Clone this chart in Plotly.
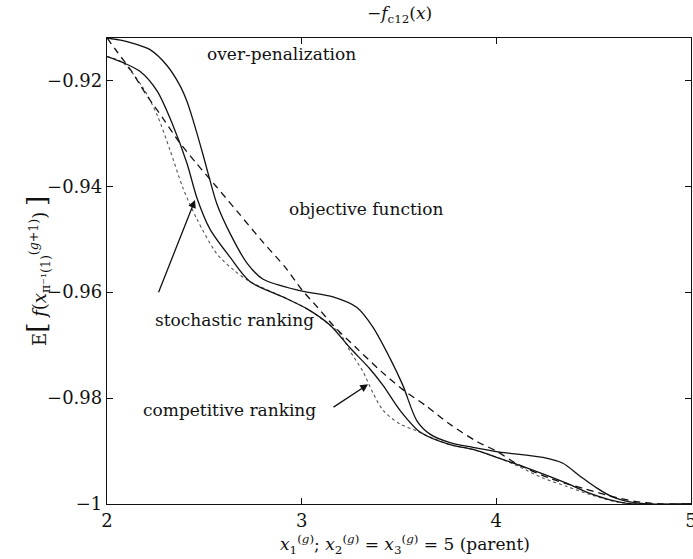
import plotly.graph_objects as go

# objective function (dashed)
obj_x = [2.00, 2.05, 2.13, 2.20, 2.29, 2.37, 2.46, 2.56, 2.67, 2.80, 2.92, 3.00, 3.08, 3.16, 3.28, 3.41,
         3.52, 3.64, 3.76, 3.90, 4.00, 4.11, 4.28, 4.45, 4.62, 4.73, 4.85, 5.00]
obj_y = [-0.9120, -0.9145, -0.9185, -0.9226, -0.9273, -0.9316, -0.9357, -0.9400, -0.9448, -0.9505, -0.9555,
         -0.9595, -0.9628, -0.9662, -0.9705, -0.9750, -0.9784, -0.9815, -0.9849, -0.9882, -0.9900, -0.9925,
         -0.9952, -0.9971, -0.9988, -0.9996, -1.0000, -1.0000]

# over-penalization (upper solid)
over_x = [2.000, 2.070, 2.134, 2.221, 2.308, 2.375, 2.411, 2.442, 2.493, 2.529, 2.565, 2.632, 2.719, 2.800,
          2.991, 3.161, 3.284, 3.366, 3.454, 3.520, 3.592, 3.659, 3.762, 3.880, 4.018, 4.239, 4.342, 4.429,
          4.517, 4.599, 4.686, 4.789, 5.000]
over_y = [-0.9120, -0.9124, -0.9130, -0.9142, -0.9172, -0.9210, -0.9240, -0.9275, -0.9340, -0.9389, -0.9434,
          -0.9489, -0.9545, -0.9575, -0.9597, -0.9609, -0.9629, -0.9666, -0.9725, -0.9776, -0.9843, -0.9868,
          -0.9884, -0.9893, -0.9902, -0.9912, -0.9923, -0.9947, -0.9970, -0.9987, -0.9996, -1.0000, -1.0000]

# stochastic ranking (lower solid)
sto_x = [2.000, 2.080, 2.169, 2.257, 2.339, 2.411, 2.462, 2.529, 2.632, 2.734, 2.904, 3.030, 3.145, 3.248,
         3.351, 3.418, 3.505, 3.608, 3.762, 3.880, 4.018, 4.106, 4.239, 4.363, 4.481, 4.584, 4.702, 5.000]
sto_y = [-0.9155, -0.9166, -0.9183, -0.9220, -0.9285, -0.9357, -0.9422, -0.9481, -0.9534, -0.9580, -0.9609,
         -0.9632, -0.9662, -0.9705, -0.9745, -0.9776, -0.9823, -0.9864, -0.9888, -0.9897, -0.9914, -0.9925,
         -0.9943, -0.9961, -0.9980, -0.9992, -1.0000, -1.0000]

# competitive ranking (dotted)
com_x = [2.000, 2.080, 2.185, 2.257, 2.324, 2.390, 2.462, 2.565, 2.650, 2.734, 2.904, 3.030, 3.145, 3.197,
         3.248, 3.315, 3.366, 3.418, 3.505, 3.592, 3.674, 3.762, 3.880, 4.018, 4.120, 4.239, 4.363, 4.481,
         4.619, 4.750, 5.000]
com_y = [-0.9155, -0.9166, -0.9214, -0.9265, -0.9332, -0.9403, -0.9462, -0.9528, -0.9558, -0.9580, -0.9609,
         -0.9632, -0.9662, -0.9678, -0.9711, -0.9750, -0.9790, -0.9823, -0.9849, -0.9862, -0.9876, -0.9888,
         -0.9897, -0.9914, -0.9930, -0.9951, -0.9967, -0.9982, -0.9996, -1.0000, -1.0000]

x_ticks = [2, 3, 4, 5]
y_ticks = [-1, -0.98, -0.96, -0.94, -0.92]
y_ticktext = ["\u22121", "\u22120.98", "\u22120.96", "\u22120.94", "\u22120.92"]

FONT = "DejaVu Serif"
INK = "#111"
TOP_PX, BOT_PX = 38, 504
PLOT_H = BOT_PX - TOP_PX


def paper_y(px):
    return (BOT_PX - px) / PLOT_H


fig = go.Figure()
fig.add_trace(go.Scatter(x=com_x, y=com_y, mode="lines", line=dict(color="#555", width=1.1, dash="dot", shape="spline", smoothing=0.8)))
fig.add_trace(go.Scatter(x=obj_x, y=obj_y, mode="lines", line=dict(color=INK, width=1.3, dash="7px,5px", shape="spline", smoothing=0.8)))
fig.add_trace(go.Scatter(x=sto_x, y=sto_y, mode="lines", line=dict(color=INK, width=1.3, shape="spline", smoothing=0.8)))
fig.add_trace(go.Scatter(x=over_x, y=over_y, mode="lines", line=dict(color=INK, width=1.3, shape="spline", smoothing=0.8)))

axis_common = dict(showline=True, linecolor=INK, linewidth=1.3, mirror="ticks", ticks="inside",
                   ticklen=6, tickcolor=INK, showgrid=False, zeroline=False,
                   ticklabeloverflow="allow",
                   tickfont=dict(family=FONT, size=18, color=INK))

fig.update_xaxes(range=[2, 5], tickvals=x_ticks, ticktext=[str(v) for v in x_ticks], **axis_common)
fig.update_yaxes(range=[-1, -0.912], tickvals=y_ticks, ticktext=y_ticktext, **axis_common)

annos = [
    dict(x=2.894, y=-0.9150, text="over-penalization"),
    dict(x=3.335, y=-0.9442, text="objective function"),
    dict(x=2.657, y=-0.9652, text="stochastic ranking"),
    dict(x=2.627, y=-0.9823, text="competitive ranking"),
]
for a in annos:
    fig.add_annotation(x=a["x"], y=a["y"], xref="x", yref="y", text=a["text"], showarrow=False,
                       font=dict(family=FONT, size=17, color=INK))

fig.add_annotation(x=2.452, y=-0.9426, ax=2.262, ay=-0.9603, xref="x", yref="y", axref="x", ayref="y",
                   text="", showarrow=True, arrowhead=2, arrowsize=1.2, arrowwidth=1.3, arrowcolor=INK)
fig.add_annotation(x=3.341, y=-0.9774, ax=3.156, ay=-0.9819, xref="x", yref="y", axref="x", ayref="y",
                   text="", showarrow=True, arrowhead=2, arrowsize=1.2, arrowwidth=1.3, arrowcolor=INK)

fig.add_annotation(x=0.5, y=paper_y(1), xref="paper", yref="paper", showarrow=False, yanchor="top",
                   text="\u2212<i>f</i><sub>c12</sub>(<i>x</i>)",
                   font=dict(family=FONT, size=17, color=INK))
fig.add_annotation(x=-0.15, y=0.5, xref="paper", yref="paper", showarrow=False, textangle=-90,
                   text="E<span style='font-size:26px'>[</span> <i>f</i>(<i>x</i><sub>\u03c0\u207b\u00b9(1)</sub><sup>(<i>g</i>+1)</sup>) <span style='font-size:26px'>]</span>",
                   font=dict(family=FONT, size=18, color=INK))
fig.add_annotation(x=0.51, y=paper_y(559), xref="paper", yref="paper", showarrow=False, yanchor="bottom",
                   text="<i>x</i><sub>1</sub><sup>(<i>g</i>)</sup>; <i>x</i><sub>2</sub><sup>(<i>g</i>)</sup> = <i>x</i><sub>3</sub><sup>(<i>g</i>)</sup> = 5 (parent)",
                   font=dict(family=FONT, size=17, color=INK))

fig.update_layout(width=693, height=559, margin=dict(l=107, r=2, t=TOP_PX, b=559 - BOT_PX, autoexpand=False),
                  paper_bgcolor="white", plot_bgcolor="white", showlegend=False)

fig.write_html("out.html")
